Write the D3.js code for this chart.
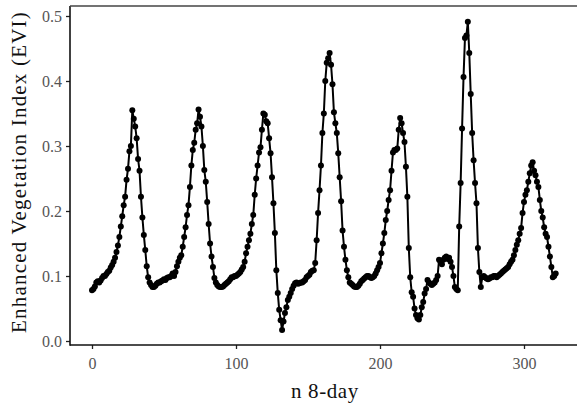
<!doctype html>
<html lang="en">
<head>
<meta charset="UTF-8">
<title>EVI 8-day</title>
<script src="https://cdn.jsdelivr.net/npm/d3@7"></script>
<style>
  body { margin: 0; background: #fff; }
  text { font-family: "Liberation Serif", "DejaVu Serif", serif; }
</style>
</head>
<body>
<script>
  var width = 577, height = 414;
  var panel = {left: 70, right: 577, top: 6, bottom: 345};

  // EVI per 8-day composite, index = n
  var evi = [
    0.078, 0.080, 0.084, 0.090, 0.092, 0.090, 0.093, 0.097, 0.100, 0.100,
    0.103, 0.106, 0.108, 0.113, 0.117, 0.122, 0.128, 0.137, 0.147, 0.160,
    0.176, 0.192, 0.209, 0.222, 0.248, 0.265, 0.292, 0.300, 0.355, 0.342,
    0.330, 0.312, 0.280, 0.262, 0.222, 0.190, 0.163, 0.140, 0.115, 0.098,
    0.090, 0.086, 0.083, 0.083, 0.085, 0.088, 0.090,
    0.090, 0.092, 0.093, 0.095, 0.094, 0.097, 0.098, 0.098, 0.100, 0.104,
    0.100, 0.106, 0.115, 0.122, 0.128, 0.132, 0.145, 0.160, 0.175, 0.194,
    0.209, 0.237, 0.270, 0.294, 0.305, 0.325, 0.335, 0.356, 0.345, 0.330,
    0.300, 0.263, 0.245, 0.214, 0.180, 0.150, 0.130, 0.114, 0.097, 0.090,
    0.086, 0.084, 0.083, 0.083, 0.084, 0.086,
    0.088, 0.090, 0.092, 0.095, 0.098, 0.098, 0.100, 0.100, 0.102, 0.104,
    0.106, 0.110, 0.114, 0.122, 0.135, 0.145, 0.155, 0.165, 0.180, 0.194,
    0.225, 0.250, 0.270, 0.290, 0.298, 0.325, 0.350, 0.348, 0.338, 0.335,
    0.312, 0.289, 0.252, 0.212, 0.166, 0.109, 0.074, 0.048, 0.032, 0.017,
    0.030, 0.043, 0.052, 0.063, 0.068, 0.074,
    0.080, 0.085, 0.089, 0.090, 0.088, 0.089, 0.090, 0.090, 0.092, 0.094,
    0.098, 0.100, 0.102, 0.106, 0.108, 0.109, 0.120, 0.155, 0.197, 0.232,
    0.270, 0.320, 0.350, 0.400, 0.428, 0.435, 0.443, 0.425, 0.395, 0.352,
    0.335, 0.320, 0.289, 0.252, 0.215, 0.170, 0.145, 0.125, 0.109, 0.098,
    0.090, 0.088, 0.086, 0.084, 0.083, 0.083,
    0.085, 0.088, 0.092, 0.094, 0.096, 0.098, 0.100, 0.100, 0.098, 0.097,
    0.098, 0.100, 0.104, 0.109, 0.114, 0.120, 0.135, 0.150, 0.166, 0.186,
    0.200, 0.217, 0.232, 0.262, 0.290, 0.294, 0.294, 0.296, 0.325, 0.343,
    0.335, 0.320, 0.306, 0.268, 0.222, 0.143, 0.098, 0.075, 0.068, 0.050,
    0.040, 0.035, 0.033, 0.040, 0.052, 0.060,
    0.073, 0.080, 0.094, 0.090, 0.088, 0.086, 0.088, 0.090, 0.094, 0.100,
    0.125, 0.122, 0.118, 0.125, 0.128, 0.130, 0.126, 0.128, 0.122, 0.114,
    0.100, 0.083, 0.080, 0.078, 0.176, 0.243, 0.327, 0.406, 0.466, 0.470,
    0.491, 0.443, 0.380, 0.320, 0.278, 0.243, 0.212, 0.143, 0.106, 0.083,
    0.098, 0.100, 0.098, 0.096, 0.095, 0.096,
    0.098, 0.098, 0.100, 0.100, 0.098, 0.100, 0.102, 0.104, 0.106, 0.108,
    0.110, 0.112, 0.114, 0.118, 0.122, 0.125, 0.132, 0.140, 0.148, 0.155,
    0.165, 0.174, 0.197, 0.214, 0.225, 0.232, 0.245, 0.258, 0.270, 0.275,
    0.262, 0.255, 0.245, 0.237, 0.217, 0.200, 0.190, 0.175, 0.165, 0.160,
    0.145, 0.130, 0.114, 0.098, 0.100, 0.104
  ];
  var xTicks = [0, 100, 200, 300];
  var yTicks = [0.0, 0.1, 0.2, 0.3, 0.4, 0.5];

  var data = evi.map(function(v, i) { return {n: i, evi: v}; });

  var svg = d3.select("body").append("svg")
      .attr("width", width)
      .attr("height", height);

  var x = d3.scaleLinear().domain([0, 300]).range([92, 524]);
  var y = d3.scaleLinear().domain([0, 0.5]).range([341, 16]);

  // axes
  var xAxis = svg.append("g")
      .attr("transform", "translate(0," + panel.bottom + ")")
      .call(d3.axisBottom(x).tickValues(xTicks).tickSize(4).tickPadding(9));
  var yAxis = svg.append("g")
      .attr("transform", "translate(" + panel.left + ",0)")
      .call(d3.axisLeft(y).tickValues(yTicks).tickFormat(d3.format(".1f")).tickSize(4).tickPadding(4));

  [xAxis, yAxis].forEach(function(g) {
    g.select(".domain").remove();
    g.selectAll(".tick line").attr("stroke", "#222").attr("stroke-width", 1.3);
    g.selectAll(".tick text")
        .attr("fill", "#555")
        .style("font-size", "16px")
        .style("font-family", "'Liberation Serif', serif");
  });

  // axis lines + top frame line
  svg.append("line")
      .attr("x1", panel.left).attr("x2", panel.right)
      .attr("y1", panel.bottom).attr("y2", panel.bottom)
      .attr("stroke", "#111").attr("stroke-width", 1.6);
  svg.append("line")
      .attr("x1", panel.left).attr("x2", panel.left)
      .attr("y1", panel.top).attr("y2", panel.bottom + 0.8)
      .attr("stroke", "#111").attr("stroke-width", 1.6);
  svg.append("line")
      .attr("x1", panel.left).attr("x2", panel.right)
      .attr("y1", panel.top).attr("y2", panel.top)
      .attr("stroke", "#444").attr("stroke-width", 1.6);

  // series
  var line = d3.line()
      .x(function(d) { return x(d.n); })
      .y(function(d) { return y(d.evi); });

  svg.append("path")
      .datum(data)
      .attr("fill", "none")
      .attr("stroke", "#000")
      .attr("stroke-width", 2)
      .attr("stroke-linejoin", "round")
      .attr("d", line);

  svg.append("g").selectAll("circle")
      .data(data)
      .enter().append("circle")
      .attr("cx", function(d) { return x(d.n); })
      .attr("cy", function(d) { return y(d.evi); })
      .attr("r", 3)
      .attr("fill", "#000");

  // titles
  svg.append("text")
      .attr("x", 325).attr("y", 398)
      .attr("text-anchor", "middle")
      .attr("fill", "#111")
      .style("font-size", "21px")
      .style("letter-spacing", "0.6px")
      .text("n 8-day");

  svg.append("text")
      .attr("transform", "translate(26,172) rotate(-90)")
      .attr("text-anchor", "middle")
      .attr("fill", "#111")
      .style("font-size", "21px")
      .style("letter-spacing", "1.2px")
      .text("Enhanced Vegetation Index (EVI)");
</script>
</body>
</html>
